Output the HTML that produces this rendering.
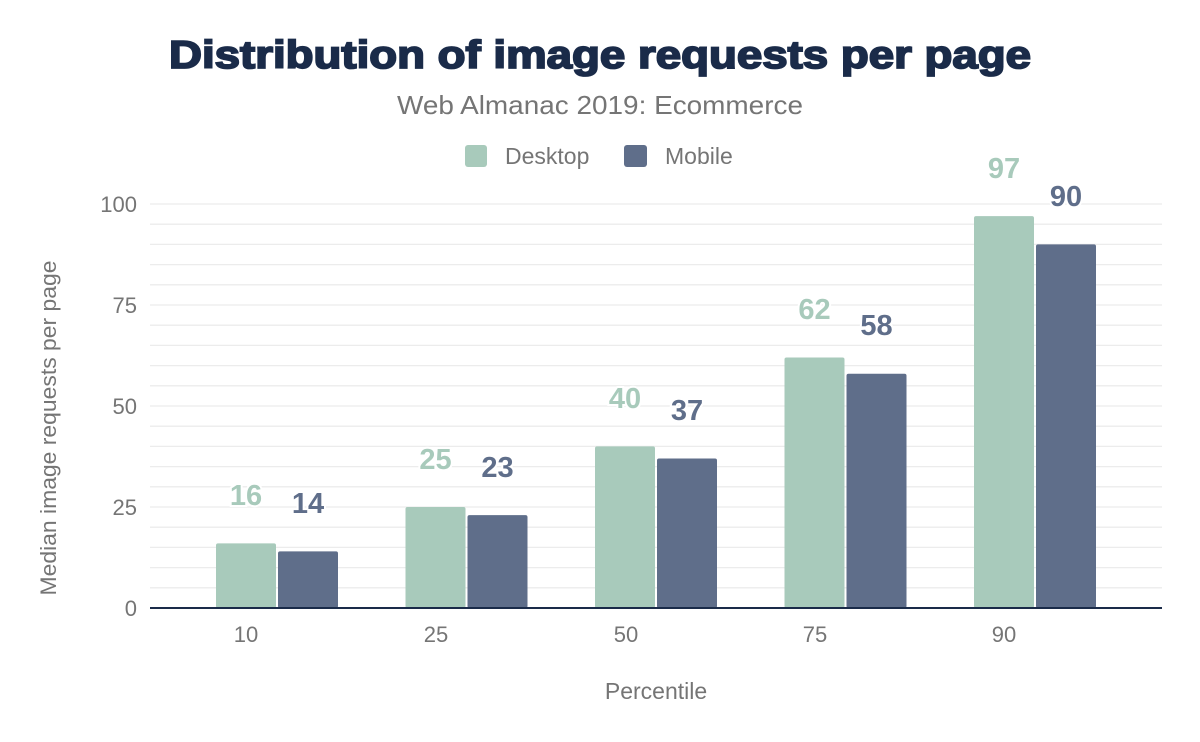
<!DOCTYPE html>
<html><head><meta charset="utf-8"><style>html,body{margin:0;padding:0;background:#fff}svg{display:block}</style></head><body>
<svg width="1200" height="742" xmlns="http://www.w3.org/2000/svg" font-family="Liberation Sans, Arial, sans-serif">
<rect width="1200" height="742" fill="#fff"/>
<text x="600" y="68" text-anchor="middle" font-size="39" font-weight="bold" fill="#1a2b49" stroke="#1a2b49" stroke-width="1.8" textLength="862" lengthAdjust="spacingAndGlyphs">Distribution of image requests per page</text>
<text x="600" y="114" text-anchor="middle" font-size="26" fill="#757575" textLength="406" lengthAdjust="spacingAndGlyphs">Web Almanac 2019: Ecommerce</text>
<rect x="465" y="145" width="22" height="22" rx="3" fill="#a8cabb"/>
<text x="505" y="164" font-size="23" fill="#757575">Desktop</text>
<rect x="624" y="145" width="23" height="22" rx="3" fill="#5f6e8a"/>
<text x="665" y="164" font-size="23" fill="#757575">Mobile</text>
<g stroke="#ececec" stroke-width="1.3">
<line x1="150" x2="1162" y1="204" y2="204"/><line x1="150" x2="1162" y1="224.2" y2="224.2"/><line x1="150" x2="1162" y1="244.4" y2="244.4"/><line x1="150" x2="1162" y1="264.6" y2="264.6"/><line x1="150" x2="1162" y1="284.8" y2="284.8"/><line x1="150" x2="1162" y1="305" y2="305"/><line x1="150" x2="1162" y1="325.2" y2="325.2"/><line x1="150" x2="1162" y1="345.4" y2="345.4"/><line x1="150" x2="1162" y1="365.6" y2="365.6"/><line x1="150" x2="1162" y1="385.8" y2="385.8"/><line x1="150" x2="1162" y1="406" y2="406"/><line x1="150" x2="1162" y1="426.2" y2="426.2"/><line x1="150" x2="1162" y1="446.4" y2="446.4"/><line x1="150" x2="1162" y1="466.6" y2="466.6"/><line x1="150" x2="1162" y1="486.8" y2="486.8"/><line x1="150" x2="1162" y1="507" y2="507"/><line x1="150" x2="1162" y1="527.2" y2="527.2"/><line x1="150" x2="1162" y1="547.4" y2="547.4"/><line x1="150" x2="1162" y1="567.6" y2="567.6"/><line x1="150" x2="1162" y1="587.8" y2="587.8"/>
</g>
<g font-size="22" fill="#757575" text-anchor="end">
<text x="137" y="212">100</text><text x="137" y="313">75</text><text x="137" y="414">50</text><text x="137" y="515">25</text><text x="137" y="616">0</text>
</g>
<text transform="translate(56,428) rotate(-90)" text-anchor="middle" font-size="22" fill="#757575" textLength="335" lengthAdjust="spacingAndGlyphs">Median image requests per page</text>
<g fill="#a8cabb">
<rect x="216" y="543.4" width="60" height="64.6" rx="2"/>
<rect x="405.5" y="507" width="60" height="101" rx="2"/>
<rect x="595" y="446.4" width="60" height="161.6" rx="2"/>
<rect x="784.5" y="357.5" width="60" height="250.5" rx="2"/>
<rect x="974" y="216.1" width="60" height="391.9" rx="2"/>
</g>
<g fill="#5f6e8a">
<rect x="278" y="551.4" width="60" height="56.6" rx="2"/>
<rect x="467.5" y="515.1" width="60" height="92.9" rx="2"/>
<rect x="657" y="458.5" width="60" height="149.5" rx="2"/>
<rect x="846.5" y="373.7" width="60" height="234.3" rx="2"/>
<rect x="1036" y="244.4" width="60" height="363.6" rx="2"/>
</g>
<line x1="150" x2="1162" y1="608" y2="608" stroke="#1a2b49" stroke-width="2"/>
<g font-size="29" font-weight="bold" text-anchor="middle" stroke="#fff" stroke-width="4" paint-order="stroke">
<g fill="#a8cabb">
<text x="246" y="505">16</text><text x="435.5" y="469">25</text><text x="625" y="408">40</text><text x="814.5" y="319">62</text><text x="1004" y="178">97</text>
</g>
<g fill="#5f6e8a">
<text x="308" y="513">14</text><text x="497.5" y="477">23</text><text x="687" y="420">37</text><text x="876.5" y="335">58</text><text x="1066" y="206">90</text>
</g>
</g>
<g font-size="22" fill="#757575" text-anchor="middle">
<text x="246" y="642">10</text><text x="436" y="642">25</text><text x="626" y="642">50</text><text x="815" y="642">75</text><text x="1004" y="642">90</text>
</g>
<text x="656" y="699" text-anchor="middle" font-size="23" fill="#757575">Percentile</text>
</svg>
</body></html>
